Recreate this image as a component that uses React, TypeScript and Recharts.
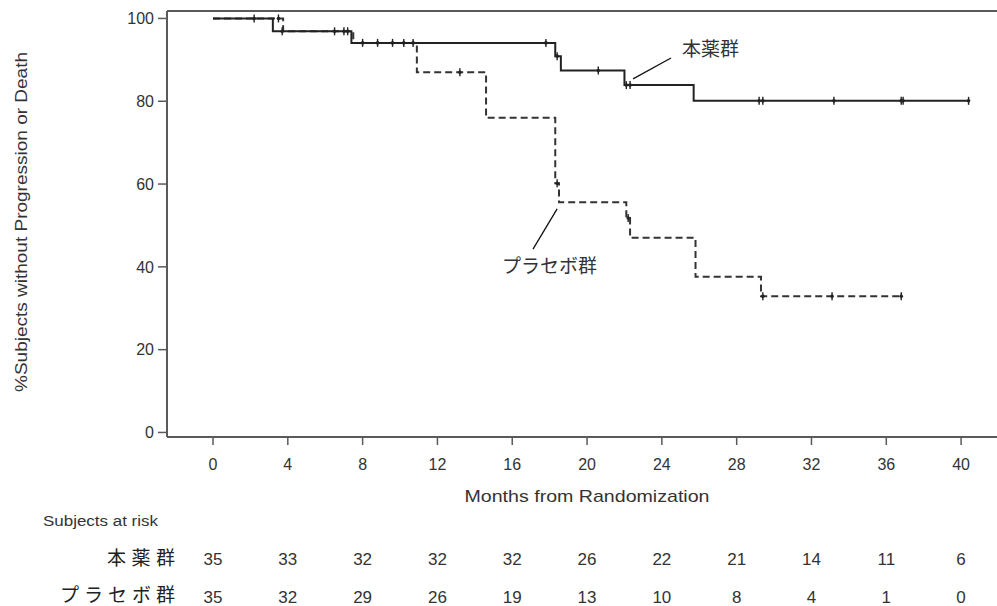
import React from 'react';
import { ComposedChart, Line, Scatter, XAxis, YAxis, ReferenceLine } from 'recharts';

const monthTicks = [0, 4, 8, 12, 16, 20, 24, 28, 32, 36, 40];
const pctTicks = [0, 20, 40, 60, 80, 100];

const drugName = '本薬群';
const placeboName = 'プラセボ群';

// Kaplan-Meier steps, [month, % without progression or death]
const drugSteps = [
  [0, 100], [3.2, 96.9], [7.4, 94.1], [18.3, 90.9], [18.6, 87.4],
  [22.0, 83.9], [25.7, 80.1], [40.4, 80.1],
];
const placeboSteps = [
  [0, 100], [3.75, 96.9], [7.5, 94.1], [10.9, 87.0], [14.6, 76.0],
  [18.3, 60.2], [18.5, 55.6], [22.1, 51.8], [22.3, 47.0], [25.8, 37.6],
  [29.3, 32.9], [36.8, 32.9],
];

// censored subjects
const drugCensored = [
  [2.2, 100], [3.7, 96.9], [6.5, 96.9], [7.0, 96.9], [7.2, 96.9],
  [8.0, 94.1], [8.8, 94.1], [17.8, 94.1], [18.4, 90.9], [20.6, 87.4],
  [22.1, 83.9], [22.3, 83.9], [29.2, 80.1], [29.4, 80.1], [33.2, 80.1],
  [36.8, 80.1], [36.9, 80.1], [40.4, 80.1],
];
const placeboCensored = [
  [3.5, 100], [9.6, 94.1], [10.2, 94.1], [10.7, 94.1], [13.2, 87.0],
  [18.4, 60.2], [22.2, 51.8], [29.4, 32.9], [33.1, 32.9], [36.8, 32.9],
];

const drugAtRisk = [35, 33, 32, 32, 32, 26, 22, 21, 14, 11, 6];
const placeboAtRisk = [35, 32, 29, 26, 19, 13, 10, 8, 4, 1, 0];

// group labels and their leader lines, in data units
const groupLabels = [
  { month: 25.08, pct: 93.1, text: drugName },
  { month: 15.45, pct: 40.5, text: placeboName },
];
const leaders = [
  [[24.49, 90.46], [22.46, 85.39]],
  [[18.4, 54.0], [17.11, 44.3]],
];

const toRows = (pts: number[][]) => pts.map(([month, pct]) => ({ month, pct }));
const riskRows = (counts: number[]) => monthTicks.map((month, i) => ({ month, pct: counts[i] }));

const SANS = '"Liberation Sans", Arial, sans-serif';
const CJK = '"Noto Sans CJK JP", sans-serif';
const INK = '#333';
const FRAME = '#5a5a5a';

const CensorMark = (props: any) => {
  const { cx, cy } = props;
  if (cx == null || cy == null) return null;
  return (
    <g>
      <line x1={cx} x2={cx} y1={cy - 4} y2={cy + 4} stroke="#222" strokeWidth={1.4} />
      <circle cx={cx} cy={cy} r={1.8} fill="#222" />
    </g>
  );
};

const GroupText = (props: any) => {
  const { cx, cy, payload } = props;
  return (
    <text x={cx} y={cy} dominantBaseline="central" fontFamily={CJK} fontSize={19} fill="#333">
      {payload.text}
    </text>
  );
};

const YTitle = (props: any) => {
  const { viewBox } = props;
  const y = viewBox.y + viewBox.height / 2 - 2;
  return (
    <text
      x={21}
      y={y}
      transform={`rotate(-90, 21, ${y})`}
      textAnchor="middle"
      dominantBaseline="central"
      fontFamily={SANS}
      fontSize={16}
      fill={INK}
      textLength={340}
      lengthAdjust="spacingAndGlyphs"
    >
      %Subjects without Progression or Death
    </text>
  );
};

const XTitle = (props: any) => {
  const { viewBox } = props;
  return (
    <g>
      <text
        x={viewBox.x + viewBox.width / 2 + 5}
        y={viewBox.y + 59}
        textAnchor="middle"
        dominantBaseline="central"
        fontFamily={SANS}
        fontSize={17}
        fill={INK}
        textLength={245}
        lengthAdjust="spacingAndGlyphs"
      >
        Months from Randomization
      </text>
      <text
        x={43}
        y={viewBox.y + 84}
        dominantBaseline="central"
        fontFamily={SANS}
        fontSize={14}
        fill={INK}
        textLength={115}
        lengthAdjust="spacingAndGlyphs"
      >
        Subjects at risk
      </text>
    </g>
  );
};

const rowTitle = (name: string, width: number, dy: number) => (props: any) => {
  const { viewBox } = props;
  return (
    <text
      x={viewBox.x + 8}
      y={viewBox.y + dy}
      textAnchor="end"
      dominantBaseline="central"
      fontFamily={CJK}
      fontSize={19}
      fill="#222"
      textLength={width}
      lengthAdjust="spacing"
    >
      {name}
    </text>
  );
};

const tickStyle = { fill: INK, fontSize: 16, fontFamily: SANS };
const riskStyle = { fill: INK, fontSize: 17, fontFamily: SANS };

export default function App() {
  return (
    <div style={{ position: 'absolute', left: 0, top: 0, width: 997, height: 606, background: '#fff' }}>
      <ComposedChart width={997} height={606} margin={{ top: 11, right: 0, bottom: 0, left: 0 }}>
        <XAxis
          dataKey="month"
          type="number"
          domain={[-2.46, 41.92]}
          ticks={monthTicks}
          allowDataOverflow
          height={108}
          tickSize={8}
          tickMargin={14}
          axisLine={{ stroke: FRAME, strokeWidth: 2 }}
          tickLine={{ stroke: FRAME, strokeWidth: 1.5 }}
          tick={tickStyle}
          label={<XTitle />}
        />
        <XAxis
          xAxisId="r1"
          dataKey="month"
          type="number"
          domain={[-2.46, 41.92]}
          ticks={monthTicks}
          allowDataOverflow
          height={38}
          tickSize={0}
          tickMargin={8}
          axisLine={false}
          tickLine={false}
          tick={riskStyle}
          tickFormatter={(v: number) => String(drugAtRisk[monthTicks.indexOf(v)])}
          label={rowTitle(drugName, 68, 11)}
        />
        <XAxis
          xAxisId="r2"
          dataKey="month"
          type="number"
          domain={[-2.46, 41.92]}
          ticks={monthTicks}
          allowDataOverflow
          height={23}
          tickSize={0}
          tickMargin={8}
          axisLine={false}
          tickLine={false}
          tick={riskStyle}
          tickFormatter={(v: number) => String(placeboAtRisk[monthTicks.indexOf(v)])}
          label={rowTitle(placeboName, 115, 10)}
        />
        <YAxis
          dataKey="pct"
          type="number"
          domain={[-1.1, 101.8]}
          ticks={pctTicks}
          allowDataOverflow
          width={167}
          tickSize={9}
          tickMargin={4}
          axisLine={{ stroke: FRAME, strokeWidth: 2 }}
          tickLine={{ stroke: FRAME, strokeWidth: 1.5 }}
          tick={tickStyle}
          label={<YTitle />}
        />
        <ReferenceLine y={101.8} stroke={FRAME} strokeWidth={2} ifOverflow="extendDomain" />
        {leaders.map((seg, i) => (
          <ReferenceLine
            key={i}
            segment={[{ x: seg[0][0], y: seg[0][1] }, { x: seg[1][0], y: seg[1][1] }]}
            stroke="#111"
            strokeWidth={1.3}
          />
        ))}
        {/* invisible carriers so the at-risk axes get their ticks */}
        <Line
          xAxisId="r1"
          data={riskRows(drugAtRisk)}
          dataKey="pct"
          stroke="none"
          dot={false}
          activeDot={false}
          legendType="none"
          isAnimationActive={false}
        />
        <Line
          xAxisId="r2"
          data={riskRows(placeboAtRisk)}
          dataKey="pct"
          stroke="none"
          dot={false}
          activeDot={false}
          legendType="none"
          isAnimationActive={false}
        />
        <Line
          data={toRows(placeboSteps)}
          dataKey="pct"
          type="stepAfter"
          stroke="#333"
          strokeWidth={2}
          strokeDasharray="7 4"
          dot={false}
          isAnimationActive={false}
        />
        <Line
          data={toRows(drugSteps)}
          dataKey="pct"
          type="stepAfter"
          stroke="#222"
          strokeWidth={2}
          dot={false}
          isAnimationActive={false}
        />
        <Scatter data={toRows(placeboCensored)} shape={<CensorMark />} isAnimationActive={false} />
        <Scatter data={toRows(drugCensored)} shape={<CensorMark />} isAnimationActive={false} />
        <Scatter data={groupLabels} shape={<GroupText />} isAnimationActive={false} />
      </ComposedChart>
    </div>
  );
}
